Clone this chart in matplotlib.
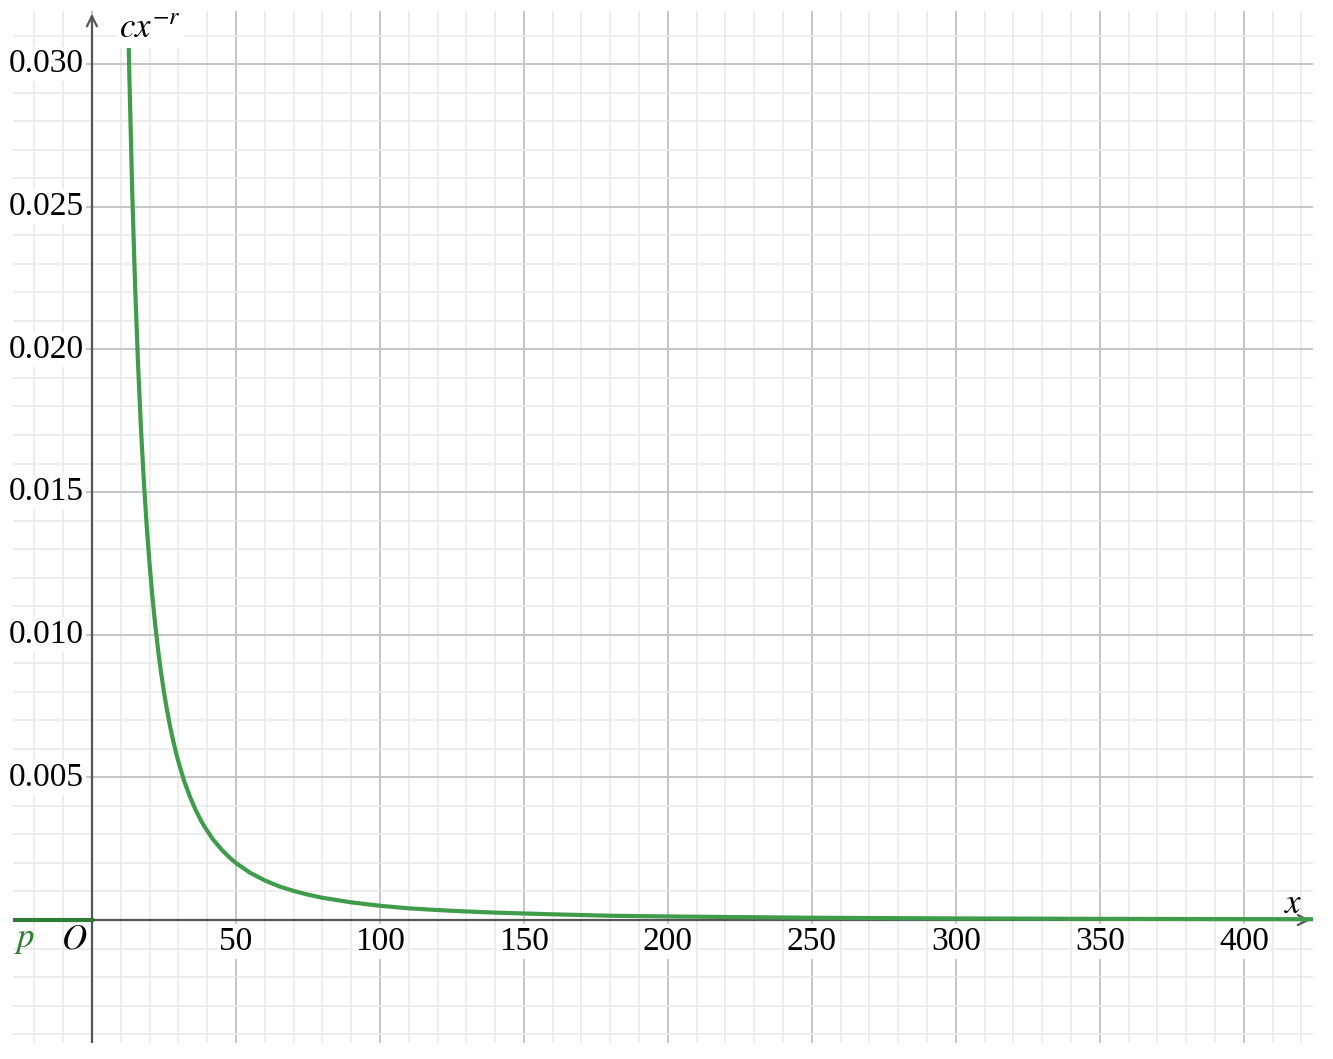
import matplotlib
matplotlib.use("Agg")
import matplotlib.pyplot as plt
from matplotlib.ticker import MultipleLocator

plt.rcParams['font.family'] = ['Liberation Serif', 'DejaVu Serif']
plt.rcParams['mathtext.fontset'] = 'stix'

# curve cx^-r, values
curve_x = [12.5, 13, 14, 15, 16, 17, 18, 19, 20, 21, 22, 23, 24, 25, 26, 27, 28, 29,
           30, 32, 34, 36, 38, 40, 42, 45, 48, 50, 55, 60, 65, 70, 75, 80, 90, 100,
           110, 120, 130, 140, 160, 180, 200, 250, 300, 350, 424]
curve_y = [0.0320, 0.02959, 0.02551, 0.02222, 0.01953, 0.01730, 0.01543, 0.01385,
           0.01250, 0.01134, 0.01033, 0.00945, 0.00868, 0.00800, 0.00740, 0.00686,
           0.00638, 0.00595, 0.00556, 0.00488, 0.00433, 0.00386, 0.00346, 0.00313,
           0.00283, 0.00247, 0.00217, 0.00200, 0.00165, 0.00139, 0.00118, 0.00102,
           0.00089, 0.00078, 0.00062, 0.00050, 0.00041, 0.00035, 0.00030, 0.00026,
           0.00020, 0.00015, 0.000125, 0.00008, 0.000056, 0.000041, 0.000028]

# piecewise part p (zero for negative x)
p_x = [-27.4, 0]
p_y = [0, 0]

x_ticks = [50, 100, 150, 200, 250, 300, 350, 400]
y_ticks = [0.005, 0.010, 0.015, 0.020, 0.025, 0.030]
y_tick_labels = ["0.005", "0.010", "0.015", "0.020", "0.025", "0.030"]

xmin, xmax = -27.4, 424.0
ymin, ymax = -0.00431, 0.03186

fig = plt.figure(figsize=(13.33, 10.59), dpi=100)
ax = fig.add_axes([13 / 1333, 16 / 1059, 1300 / 1333, 1032 / 1059])
ax.set_xlim(xmin, xmax)
ax.set_ylim(ymin, ymax)
for s in ax.spines.values():
    s.set_visible(False)

# grid
ax.xaxis.set_major_locator(MultipleLocator(50))
ax.xaxis.set_minor_locator(MultipleLocator(10))
ax.yaxis.set_major_locator(MultipleLocator(0.005))
ax.yaxis.set_minor_locator(MultipleLocator(0.001))
ax.grid(True, which='major', color='#c2c2c2', lw=1.3, zorder=0)
ax.grid(True, which='minor', color='#e8e8e8', lw=1.1, zorder=0)
ax.tick_params(which='both', length=0, labelbottom=False, labelleft=False)
ax.set_axisbelow(True)

# axes with arrows
ax.plot([xmin, xmax - 1], [0, 0], color='#555555', lw=1.6, zorder=2)
ax.plot([0, 0], [ymin, ymax - 0.0002], color='#555555', lw=1.6, zorder=2)
ax.annotate('', xy=(xmax, 0), xytext=(xmax - 5, 0),
            arrowprops=dict(arrowstyle='->', color='#555555', lw=1.6, mutation_scale=18), zorder=2)
ax.annotate('', xy=(0, ymax), xytext=(0, ymax - 0.0005),
            arrowprops=dict(arrowstyle='->', color='#555555', lw=1.6, mutation_scale=18), zorder=2)

# functions
ax.plot(curve_x, curve_y, color='#3f9c4a', lw=3, solid_capstyle='butt', zorder=3)
ax.plot(p_x, p_y, color='#2e7d32', lw=3, zorder=3)

box = dict(facecolor='white', edgecolor='none', pad=1.5)

for v in x_ticks:
    ax.text(v, -0.00022, str(v), ha='center', va='top', fontsize=24, bbox=box, zorder=4)
for v, lab in zip(y_ticks, y_tick_labels):
    ax.text(-2.8, v, lab, ha='right', va='center', fontsize=24, bbox=box, zorder=4)

ax.text(-6.3, -0.0007, r'$O$', ha='center', va='center', fontsize=25, zorder=4)
ax.text(-23.5, -0.0007, r'$p$', ha='center', va='center', fontsize=25, color='#2e7d32', zorder=4)
ax.text(417, 0.00055, r'$x$', ha='center', va='center', fontsize=25, zorder=4)
ax.text(9.5, 0.03125, r'$cx^{-r}$', ha='left', va='center', fontsize=25,
        bbox=dict(facecolor='white', edgecolor='none', pad=2), zorder=4)

fig.savefig('out.png', dpi=100, facecolor='white')
